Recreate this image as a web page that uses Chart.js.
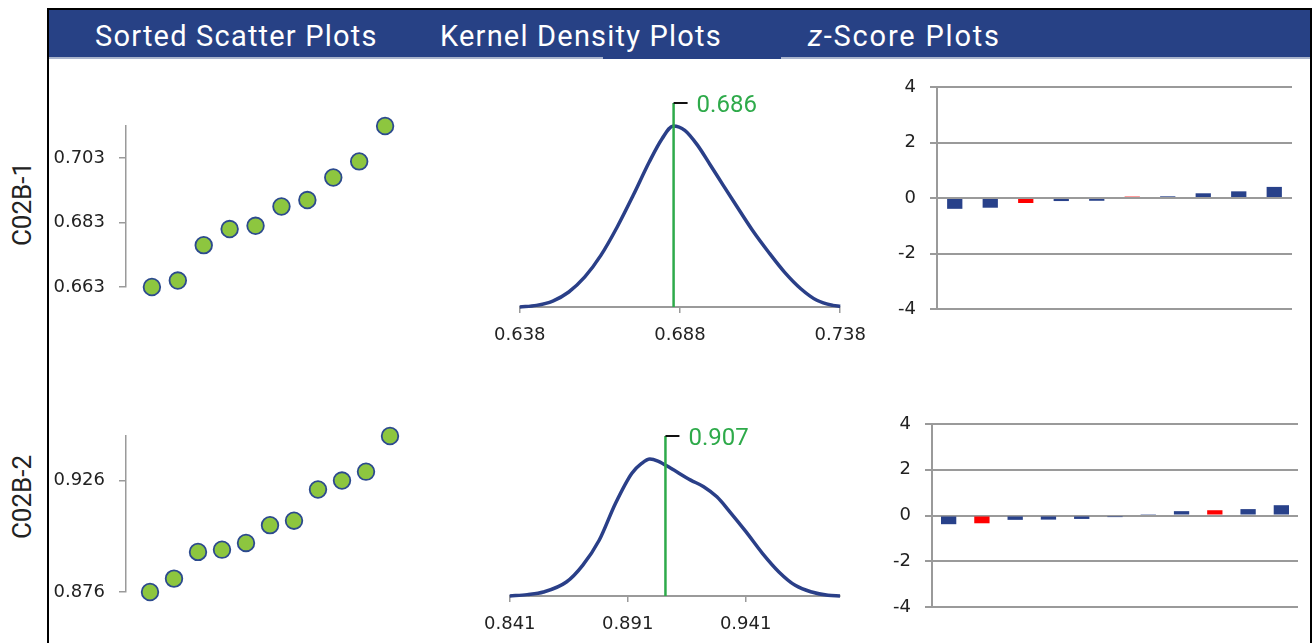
<!DOCTYPE html>
<html>
<head>
<meta charset="utf-8">
<script src="https://cdn.jsdelivr.net/npm/chart.js@4.4.1/dist/chart.umd.min.js"></script>
<style>
  html, body { margin: 0; padding: 0; background: #fff; overflow: hidden; }
  body { width: 1314px; height: 643px; position: relative; font-family: Roboto, "Noto Sans", sans-serif; }
  .frame { position: absolute; background: #000; }
  .header { position: absolute; left: 49px; top: 10px; width: 1261px; height: 47px; background: #274185; }
  .header-line { position: absolute; left: 49px; top: 57px; width: 1261px; height: 2px; background: #aab4cc; }
  .header-tab { position: absolute; left: 603px; top: 57px; width: 178px; height: 2px; background: #274185; }
  .title { position: absolute; top: 10px; height: 47px; line-height: 53px; color: #fff; font-size: 29px;
           letter-spacing: 1.2px; white-space: nowrap; }
  .row-label { position: absolute; font-size: 26px; color: #222; white-space: nowrap;
               transform: translate(-50%, -50%) rotate(-90deg); }
  canvas { position: absolute; }
</style>
</head>
<body>
<div class="frame" style="left:47px;top:8px;width:1265px;height:2px"></div>
<div class="frame" style="left:47px;top:8px;width:2px;height:640px"></div>
<div class="frame" style="left:1310px;top:8px;width:2px;height:640px"></div>
<div class="header"></div>
<div class="header-line"></div>
<div class="header-tab"></div>
<div class="title" style="left:95px">Sorted Scatter Plots</div>
<div class="title" style="left:440px">Kernel Density Plots</div>
<div class="title" style="left:808px;letter-spacing:1.8px"><i>z</i>-Score Plots</div>

<div class="row-label" style="left:22px;top:204px">C02B-1</div>
<div class="row-label" style="left:22px;top:497px">C02B-2</div>

<canvas id="scatter1"></canvas>
<canvas id="scatter2"></canvas>
<canvas id="kde1"></canvas>
<canvas id="kde2"></canvas>
<canvas id="zscore1"></canvas>
<canvas id="zscore2"></canvas>

<script>
// Sorted sample values
const c02b1Vals = [0.663, 0.665, 0.676, 0.681, 0.682, 0.688, 0.690, 0.697, 0.702, 0.713];
const c02b2Vals = [0.876, 0.882, 0.894, 0.895, 0.898, 0.906, 0.908, 0.922, 0.926, 0.930, 0.946];
const c02b1Ticks = [0.663, 0.683, 0.703];
const c02b2Ticks = [0.876, 0.926];
const c02b1Range = [0.663, 0.713];
const c02b2Range = [0.876, 0.946];

// Kernel density curves (x, relative density)
const kde1X = [0.638, 0.6432, 0.6483, 0.6533, 0.6583, 0.6633, 0.6684, 0.6734, 0.6784, 0.6824, 0.6859, 0.6895,
               0.6935, 0.6975, 0.7015, 0.7055, 0.7106, 0.7156, 0.7206, 0.7257, 0.7307, 0.7357, 0.738];
const kde1Y = [0, 0.009, 0.033, 0.083, 0.166, 0.285, 0.442, 0.617, 0.801, 0.930, 1.0, 0.976,
               0.893, 0.783, 0.672, 0.562, 0.424, 0.304, 0.193, 0.101, 0.037, 0.009, 0.004];
const kde2X = [0.841, 0.8484, 0.8553, 0.8650, 0.8719, 0.8789, 0.8858, 0.8927, 0.8969, 0.9004, 0.9038, 0.9093,
               0.9177, 0.9232, 0.9288, 0.9343, 0.9412, 0.9482, 0.9551, 0.9620, 0.9690, 0.9759, 0.981];
const kde2Y = [0, 0.010, 0.029, 0.102, 0.224, 0.407, 0.676, 0.895, 0.968, 1.0, 0.985, 0.932,
               0.846, 0.798, 0.724, 0.615, 0.468, 0.310, 0.176, 0.078, 0.029, 0.005, 0];
const kde1Ticks = [0.638, 0.688, 0.738];
const kde2Ticks = [0.841, 0.891, 0.941];
const kde1Range = [0.638, 0.738];
const kde2Range = [0.841, 0.981];
const kde1YMax = 1.127;
const kde2YMax = 1.168;
const mean1 = 0.686;
const mean2 = 0.907;

// z-scores
const z1 = [-0.39, -0.35, -0.18, -0.11, -0.10, 0.05, 0.06, 0.17, 0.24, 0.40];
const z2 = [-0.38, -0.34, -0.19, -0.18, -0.15, -0.07, 0.06, 0.19, 0.23, 0.28, 0.45];
const z1Flagged = [2, 5];
const z2Flagged = [1, 8];
const zTicks = [-4, -2, 0, 2, 4];

// Colours
const AXIS_GRAY = "#9a9a9a";
const DOT_FILL = "#8dc63f";
const DOT_EDGE = "#2c4a8e";
const CURVE_BLUE = "#2a3f88";
const BAR_BLUE = "#28418a";
const BAR_RED = "#ff0000";
const MEAN_GREEN = "#2eaa4a";
const TEXT = "#222";
const TICK_FONT = { family: "DejaVu Sans", size: 18 };

const PAD = 32;

// size and position a canvas so its chart area lands on the given box
function placeCanvas(id, area, yW, xH) {
  const canvas = document.getElementById(id);
  canvas.width = area.right - area.left + yW + 2 * PAD;
  canvas.height = area.bottom - area.top + xH + 2 * PAD;
  canvas.style.left = (area.left - yW - PAD) + "px";
  canvas.style.top = (area.top - PAD) + "px";
  return canvas;
}

function fixedTicks(list) {
  return (scale) => {
    scale.ticks = list.map((v) => ({ value: v }));
  };
}

const baseOptions = {
  responsive: false,
  animation: false,
  layout: { padding: PAD },
  plugins: { legend: { display: false }, tooltip: { enabled: false } },
};

function scatterChart(id, area, vals, ticks, range) {
  const yW = 80;
  const canvas = placeCanvas(id, area, yW, 0);
  new Chart(canvas, {
    type: "scatter",
    data: {
      datasets: [
        {
          data: vals.map((v, i) => ({ x: i + 1, y: v })),
          pointRadius: 8.3,
          pointBorderWidth: 1.8,
          pointBackgroundColor: DOT_FILL,
          pointBorderColor: DOT_EDGE,
          clip: false,
        },
      ],
    },
    options: {
      ...baseOptions,
      scales: {
        x: { type: "linear", display: false, min: 0, max: vals.length + 1 },
        y: {
          min: range[0],
          max: range[1],
          afterBuildTicks: fixedTicks(ticks),
          afterFit: (s) => { s.width = yW; },
          ticks: { callback: (v) => v.toFixed(3), font: TICK_FONT, color: TEXT, padding: 14, autoSkip: false },
          grid: { drawOnChartArea: false, tickLength: 7, color: AXIS_GRAY, lineWidth: 1.5 },
          border: { color: AXIS_GRAY, width: 1.5 },
        },
      },
    },
  });
}

// black tick and green value label at the top of the mean line
const meanLabel = {
  id: "meanLabel",
  afterDatasetsDraw(chart, args, opts) {
    const { ctx } = chart;
    const x0 = chart.scales.x.getPixelForValue(opts.mean);
    const y0 = chart.chartArea.top;
    ctx.save();
    ctx.strokeStyle = "#111";
    ctx.lineWidth = 2;
    ctx.beginPath();
    ctx.moveTo(x0, y0);
    ctx.lineTo(x0 + 14, y0);
    ctx.stroke();
    ctx.fillStyle = MEAN_GREEN;
    ctx.font = "24px Roboto";
    ctx.textBaseline = "middle";
    ctx.fillText(opts.mean.toFixed(3), x0 + 23, y0 + 3);
    ctx.restore();
  },
};

function kdeChart(id, area, xs, ys, ticks, range, yMax, mean) {
  const xH = 45;
  const canvas = placeCanvas(id, area, 0, xH);
  new Chart(canvas, {
    type: "line",
    data: {
      datasets: [
        {
          data: [{ x: mean, y: 0 }, { x: mean, y: yMax }],
          borderColor: MEAN_GREEN,
          borderWidth: 2.5,
          pointRadius: 0,
          clip: false,
        },
        {
          data: xs.map((x, i) => ({ x: x, y: ys[i] })),
          borderColor: CURVE_BLUE,
          borderWidth: 3.5,
          pointRadius: 0,
          cubicInterpolationMode: "monotone",
          clip: false,
        },
      ],
    },
    options: {
      ...baseOptions,
      plugins: { ...baseOptions.plugins, meanLabel: { mean: mean } },
      scales: {
        x: {
          type: "linear",
          min: range[0],
          max: range[1],
          afterBuildTicks: fixedTicks(ticks),
          afterFit: (s) => { s.height = xH; },
          ticks: { callback: (v) => v.toFixed(3), font: TICK_FONT, color: TEXT, padding: 12, autoSkip: false, maxRotation: 0 },
          grid: { drawOnChartArea: false, tickLength: 6, color: AXIS_GRAY, lineWidth: 1.5 },
          border: { color: AXIS_GRAY, width: 2 },
        },
        y: { display: false, min: 0, max: yMax },
      },
    },
    plugins: [meanLabel],
  });
}

function zChart(id, area, z, flagged, barPct) {
  const yW = 60;
  const canvas = placeCanvas(id, area, yW, 0);
  new Chart(canvas, {
    type: "bar",
    data: {
      labels: z.map((_, i) => i + 1),
      datasets: [
        {
          data: z,
          backgroundColor: z.map((_, i) => (flagged.includes(i) ? BAR_RED : BAR_BLUE)),
          barPercentage: barPct,
          categoryPercentage: 1,
        },
      ],
    },
    options: {
      ...baseOptions,
      scales: {
        x: { display: false },
        y: {
          min: zTicks[0],
          max: zTicks[zTicks.length - 1],
          afterBuildTicks: fixedTicks(zTicks),
          afterFit: (s) => { s.width = yW; },
          ticks: { font: TICK_FONT, color: TEXT, padding: 14, autoSkip: false },
          grid: { color: AXIS_GRAY, lineWidth: 2, tickLength: 7 },
          border: { color: AXIS_GRAY, width: 2 },
        },
      },
    },
  });
}

scatterChart("scatter1", { left: 126, right: 411, top: 126, bottom: 287 }, c02b1Vals, c02b1Ticks, c02b1Range);
scatterChart("scatter2", { left: 126, right: 414, top: 436, bottom: 592 }, c02b2Vals, c02b2Ticks, c02b2Range);
kdeChart("kde1", { left: 514, right: 846, top: 103, bottom: 307 }, kde1X, kde1Y, kde1Ticks, kde1Range, kde1YMax, mean1);
kdeChart("kde2", { left: 504, right: 840, top: 436, bottom: 596 }, kde2X, kde2Y, kde2Ticks, kde2Range, kde2YMax, mean2);
zChart("zscore1", { left: 937, right: 1292, top: 87, bottom: 309 }, z1, z1Flagged, 0.43);
zChart("zscore2", { left: 932, right: 1298, top: 424, bottom: 607 }, z2, z2Flagged, 0.46);
</script>
</body>
</html>
